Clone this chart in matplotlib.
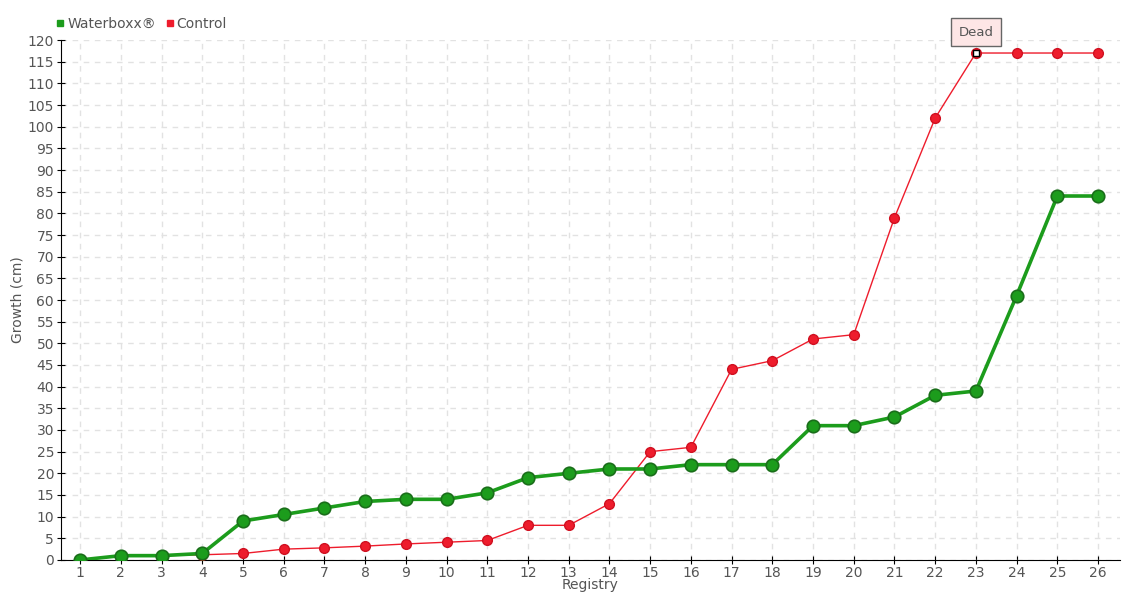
import matplotlib
matplotlib.use('Agg')
import matplotlib.pyplot as plt
from matplotlib.lines import Line2D

# Data
registry = list(range(1, 27))
waterboxx = [0, 1, 1, 1.5, 9, 10.5, 12, 13.5, 14, 14, 15.5, 19, 20, 21, 21, 22, 22, 22,
             31, 31, 33, 38, 39, 61, 84, 84]
control = [0, 1, 1, 1.2, 1.5, 2.5, 2.8, 3.2, 3.7, 4.1, 4.5, 8, 8, 13, 25, 26, 44, 46,
           51, 52, 79, 102, 117, 117, 117, 117]
dead_idx = 22  # registry 23

green = '#1c9c1c'
red = '#ee1c2c'
text_col = '#555555'

plt.rcParams['font.family'] = ['DejaVu Sans']

fig = plt.figure(figsize=(11.4, 6), dpi=100)
ax = fig.add_axes([0.0535, 0.0667, 0.929, 0.8666])

ax.plot(registry, control, color=red, lw=1, marker='o', ms=7,
        mfc=red, mec='#d01020', zorder=3)
ax.plot(registry, waterboxx, color=green, lw=2.6, marker='o', ms=9,
        mfc=green, mec='#1a6e1a', mew=1.2, zorder=4)
# hollow square on the "dead" point
ax.plot(registry[dead_idx], control[dead_idx], marker='s', ms=4, mfc='white',
        mec='black', mew=1, zorder=5)

ax.annotate('Dead', xy=(registry[dead_idx], control[dead_idx]),
            xytext=(0, 15), textcoords='offset points', ha='center', va='center',
            fontsize=9.5, color=text_col,
            bbox=dict(boxstyle='square,pad=0.55', fc='#fde6e6', ec='#666666', lw=1),
            zorder=6)

ax.set_xlim(0.53, 26.54)
ax.set_ylim(0, 120)
ax.set_xticks(registry)
ax.set_yticks(range(0, 121, 5))
ax.grid(True, color='#e2e2e2', ls=(0, (4, 4)), lw=1)
ax.set_axisbelow(True)

for s in ['top', 'right']:
    ax.spines[s].set_visible(False)
ax.spines['left'].set_color('black')
ax.spines['bottom'].set_color('black')
ax.tick_params(axis='y', direction='inout', length=6, colors='black',
               labelcolor=text_col, labelsize=10, pad=2)
ax.tick_params(axis='x', direction='inout', length=6, colors='black',
               labelcolor=text_col, labelsize=10, pad=1)

ax.set_xlabel('Registry', color=text_col, fontsize=10, labelpad=-1)
ax.set_ylabel('Growth (cm)', color=text_col, fontsize=10, labelpad=2)

handles = [Line2D([], [], ls='', marker='s', ms=5, color=green),
           Line2D([], [], ls='', marker='s', ms=5, color=red)]
fig.legend(handles, ['Waterboxx®', 'Control'], loc='upper left',
           bbox_to_anchor=(0.037, 0.993), ncol=2, frameon=False,
           handletextpad=0.1, columnspacing=0.6, fontsize=10,
           labelcolor=text_col, handlelength=0.8)

fig.savefig('out.png', dpi=100)
